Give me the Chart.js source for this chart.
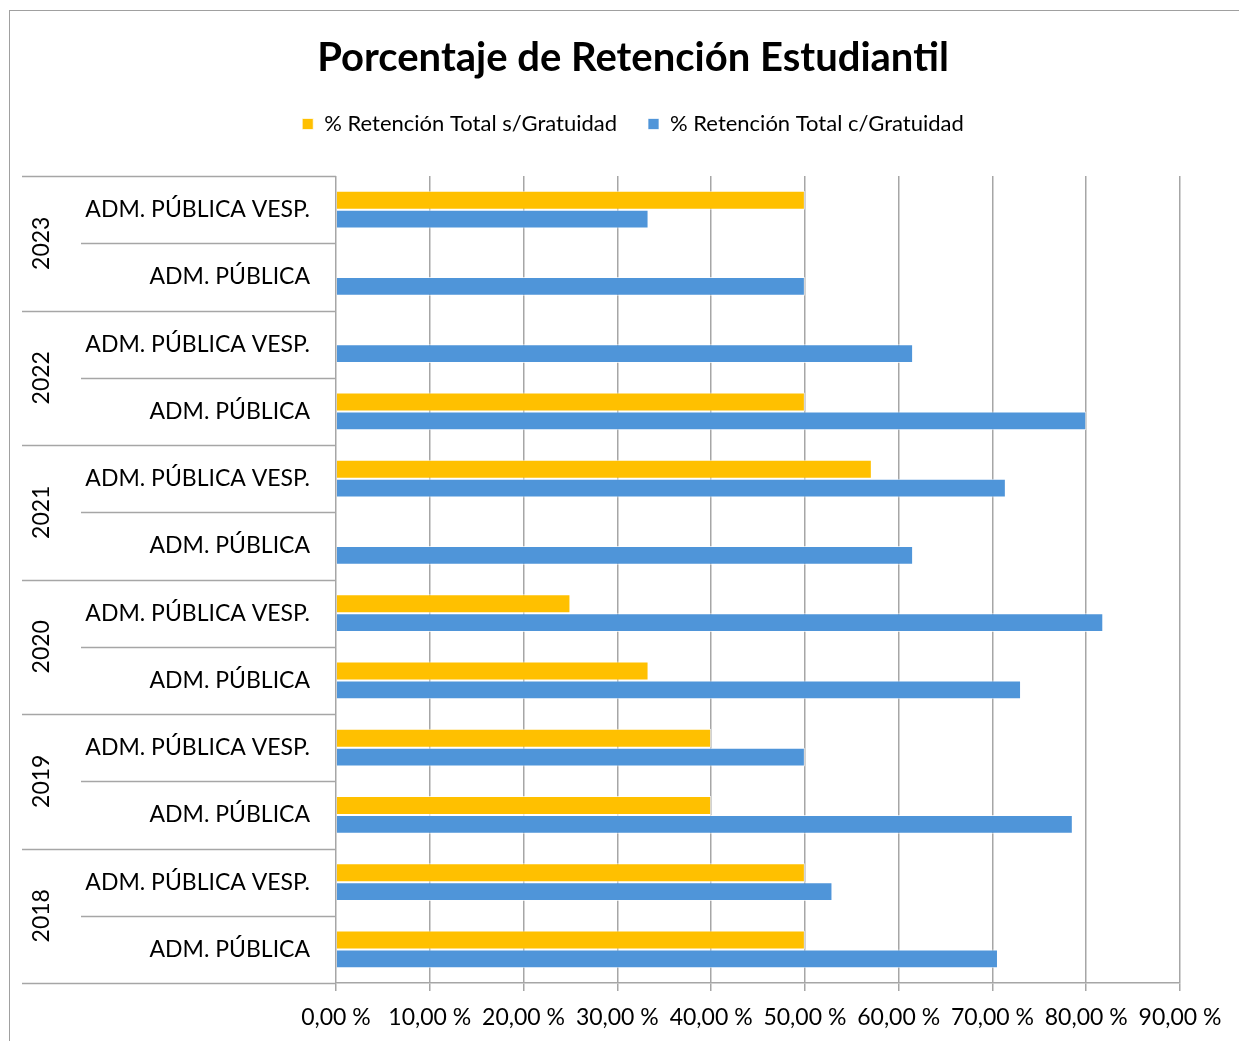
<!DOCTYPE html>
<html lang="es">
<head>
<meta charset="utf-8">
<title>Porcentaje de Retención Estudiantil</title>
<script src="https://cdn.jsdelivr.net/npm/chart.js@4.4.1/dist/chart.umd.min.js"></script>
<style>
  html, body { margin: 0; padding: 0; background: #fff; }
  #wrap { width: 1239px; height: 1041px; position: relative; }
</style>
</head>
<body>
<div id="wrap"><canvas id="retencionChart" width="1239" height="1041"></canvas></div>
<script>
// Data, listed top to bottom as it appears in the chart
const years = ['2023', '2022', '2021', '2020', '2019', '2018'];
const programs = ['ADM. PÚBLICA VESP.', 'ADM. PÚBLICA'];
const sinGratuidad = [50, null, null, 50, 57.14, null, 25, 33.33, 40, 40, 50, 50];
const conGratuidad = [33.33, 50, 61.54, 80, 71.43, 61.54, 81.82, 73.05, 50, 78.57, 52.94, 70.59];
const xTickValues = [0, 10, 20, 30, 40, 50, 60, 70, 80, 90];

const FONT = 'Lato';
const GRID = '#a6a6a6';

// one row per program inside each year
const labels = years.flatMap(() => programs);

// Draws the frame, the two-level category axis (program + year) and its separators
const groupAxis = {
  id: 'groupAxis',
  beforeDraw(chart) {
    const { ctx } = chart;
    ctx.save();
    ctx.fillStyle = '#fff';
    ctx.fillRect(0, 0, chart.width, chart.height);
    ctx.strokeStyle = '#a0a0a0';
    ctx.lineWidth = 1;
    ctx.strokeRect(9.5, 10.5, chart.width + 20, chart.height + 20);
    ctx.restore();
  },
  afterDraw(chart) {
    const { ctx, chartArea, scales: { y } } = chart;
    const step = y.getPixelForValue(1) - y.getPixelForValue(0);
    const yearX = 22, progX = 81;

    ctx.save();
    ctx.strokeStyle = GRID;
    ctx.lineWidth = 1.5;
    labels.forEach((lab, i) => {
      const top = Math.round(y.getPixelForValue(i) - step / 2) + 0.5;
      ctx.beginPath();
      ctx.moveTo(i % programs.length === 0 ? yearX : progX, top);
      ctx.lineTo(chartArea.left, top);
      ctx.stroke();
    });
    const bottom = Math.round(chartArea.bottom) + 0.5;
    ctx.beginPath();
    ctx.moveTo(yearX, bottom);
    ctx.lineTo(chartArea.left, bottom);
    ctx.stroke();

    // program labels
    ctx.fillStyle = '#000';
    ctx.font = `23px ${FONT}`;
    ctx.textAlign = 'right';
    ctx.textBaseline = 'middle';
    labels.forEach((lab, i) => {
      ctx.fillText(lab, chartArea.left - 26, y.getPixelForValue(i));
    });

    // year labels, rotated
    ctx.textAlign = 'center';
    years.forEach((yr, g) => {
      const first = y.getPixelForValue(g * programs.length);
      const last = y.getPixelForValue(g * programs.length + programs.length - 1);
      ctx.save();
      ctx.translate(42, (first + last) / 2);
      ctx.rotate(-Math.PI / 2);
      ctx.fillText(yr, 0, 0);
      ctx.restore();
    });
    ctx.restore();
  }
};

const ctx = document.getElementById('retencionChart').getContext('2d');
const retencionChart = new Chart(ctx, {
  type: 'bar',
  data: {
    labels: labels,
    datasets: [
      {
        label: '% Retención Total s/Gratuidad',
        data: sinGratuidad,
        backgroundColor: '#ffc000',
        borderColor: 'rgba(255,255,255,0.7)',
        borderWidth: 1,
        xAxisID: 'x'
      },
      {
        label: '% Retención Total c/Gratuidad',
        data: conGratuidad,
        backgroundColor: '#4f95d9',
        borderColor: 'rgba(255,255,255,0.7)',
        borderWidth: 1,
        xAxisID: 'x'
      }
    ]
  },
  options: {
    indexAxis: 'y',
    responsive: false,
    animation: false,
    categoryPercentage: 0.565,
    barPercentage: 1.0,
    layout: { padding: { left: 86, right: 59, top: 0, bottom: 0 } },
    plugins: {
      title: {
        display: true,
        text: 'Porcentaje de Retención Estudiantil',
        color: '#000',
        font: { family: FONT, size: 40, weight: 'bold' },
        padding: { top: 34, bottom: 0 }
      },
      legend: {
        position: 'top',
        labels: {
          color: '#000',
          font: { family: FONT, size: 22 },
          boxWidth: 11,
          boxHeight: 11,
          padding: 31
        }
      },
      tooltip: { enabled: false }
    },
    scales: {
      x: {
        type: 'linear',
        position: 'bottom',
        min: 0,
        max: 90,
        afterBuildTicks: (s) => { s.ticks = xTickValues.map(v => ({ value: v })); },
        ticks: {
          color: '#000',
          font: { family: FONT, size: 23 },
          padding: 13,
          maxRotation: 0,
          autoSkip: false,
          callback: (v) => v.toFixed(2).replace('.', ',') + ' %'
        },
        grid: { color: GRID, lineWidth: 1.5, tickLength: 8 },
        border: { display: true, color: GRID, width: 1.5 },
        afterFit(s) { s.height = 58; s.paddingLeft = 0; s.paddingRight = 0; }
      },
      // empty spacer between legend and plot
      xTop: {
        type: 'linear',
        position: 'top',
        display: true,
        ticks: { display: false },
        grid: { display: false },
        border: { display: false },
        afterFit(s) { s.height = 31; }
      },
      y: {
        ticks: { display: false },
        grid: { display: false },
        border: { display: false },
        afterFit(s) { s.width = 250; }
      }
    }
  },
  plugins: [groupAxis]
});
</script>
</body>
</html>
